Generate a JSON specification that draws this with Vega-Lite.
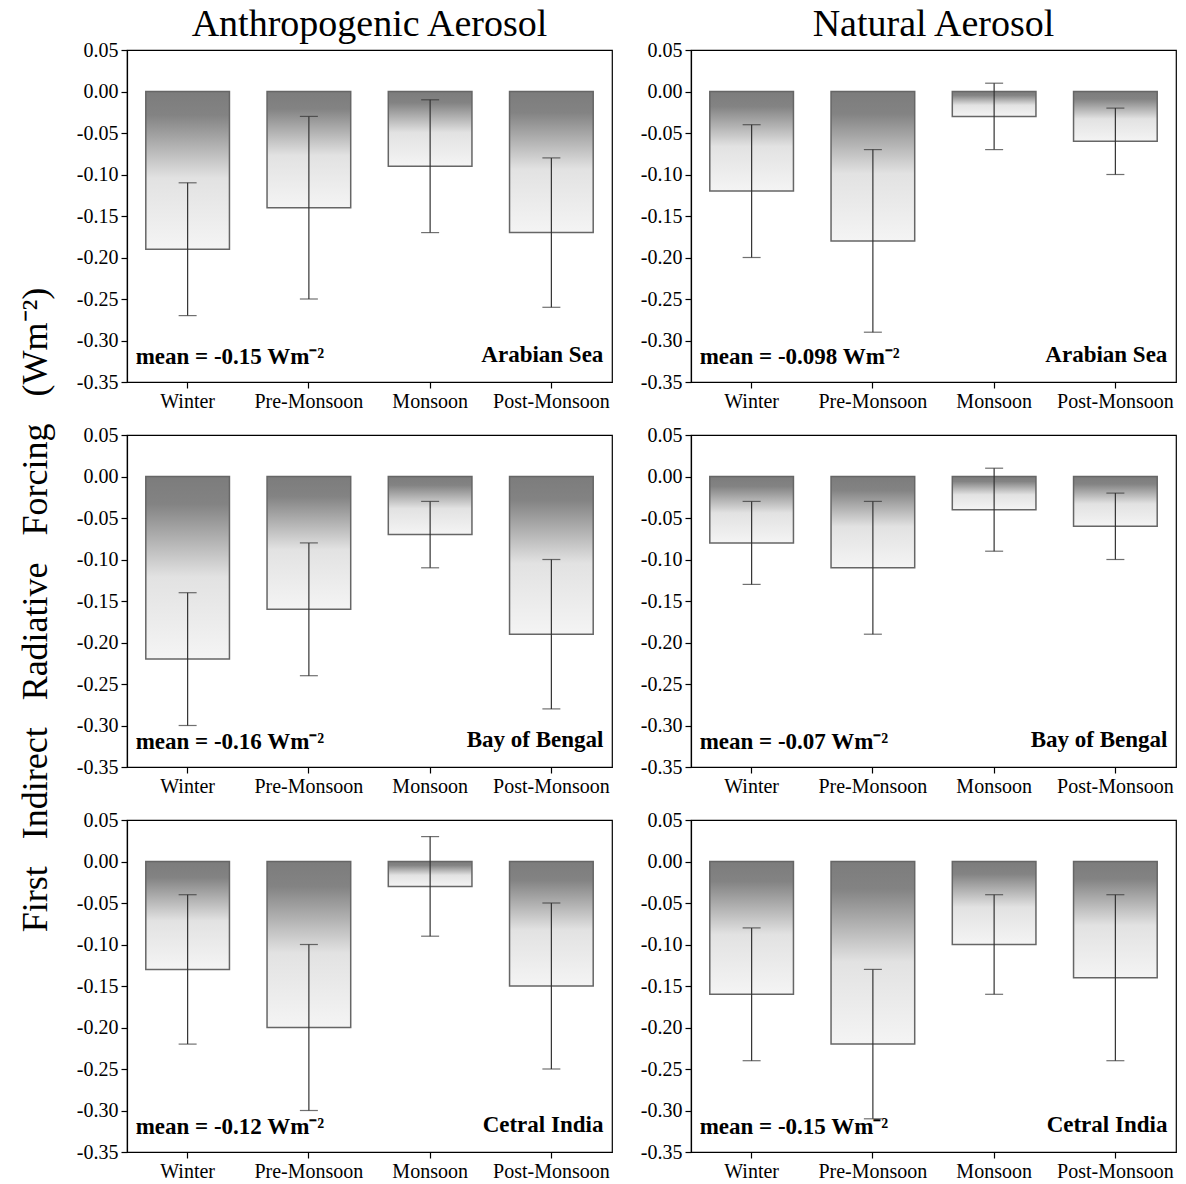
{
  "$schema": "https://vega.github.io/schema/vega-lite/v6.json",
  "background": "white",
  "padding": {"left": 17, "top": 6, "right": 5, "bottom": 5},
  "data": {"values": [
    {"aerosol": "Anthropogenic Aerosol", "region": "Arabian Sea", "season": "Winter", "value": -0.19, "lo": -0.27, "hi": -0.11, "mean": "mean = -0.15 Wm⁻²"},
    {"aerosol": "Anthropogenic Aerosol", "region": "Arabian Sea", "season": "Pre-Monsoon", "value": -0.14, "lo": -0.25, "hi": -0.03, "mean": "mean = -0.15 Wm⁻²"},
    {"aerosol": "Anthropogenic Aerosol", "region": "Arabian Sea", "season": "Monsoon", "value": -0.09, "lo": -0.17, "hi": -0.01, "mean": "mean = -0.15 Wm⁻²"},
    {"aerosol": "Anthropogenic Aerosol", "region": "Arabian Sea", "season": "Post-Monsoon", "value": -0.17, "lo": -0.26, "hi": -0.08, "mean": "mean = -0.15 Wm⁻²"},
    {"aerosol": "Natural Aerosol", "region": "Arabian Sea", "season": "Winter", "value": -0.12, "lo": -0.20, "hi": -0.04, "mean": "mean = -0.098 Wm⁻²"},
    {"aerosol": "Natural Aerosol", "region": "Arabian Sea", "season": "Pre-Monsoon", "value": -0.18, "lo": -0.29, "hi": -0.07, "mean": "mean = -0.098 Wm⁻²"},
    {"aerosol": "Natural Aerosol", "region": "Arabian Sea", "season": "Monsoon", "value": -0.03, "lo": -0.07, "hi": 0.01, "mean": "mean = -0.098 Wm⁻²"},
    {"aerosol": "Natural Aerosol", "region": "Arabian Sea", "season": "Post-Monsoon", "value": -0.06, "lo": -0.10, "hi": -0.02, "mean": "mean = -0.098 Wm⁻²"},
    {"aerosol": "Anthropogenic Aerosol", "region": "Bay of Bengal", "season": "Winter", "value": -0.22, "lo": -0.30, "hi": -0.14, "mean": "mean = -0.16 Wm⁻²"},
    {"aerosol": "Anthropogenic Aerosol", "region": "Bay of Bengal", "season": "Pre-Monsoon", "value": -0.16, "lo": -0.24, "hi": -0.08, "mean": "mean = -0.16 Wm⁻²"},
    {"aerosol": "Anthropogenic Aerosol", "region": "Bay of Bengal", "season": "Monsoon", "value": -0.07, "lo": -0.11, "hi": -0.03, "mean": "mean = -0.16 Wm⁻²"},
    {"aerosol": "Anthropogenic Aerosol", "region": "Bay of Bengal", "season": "Post-Monsoon", "value": -0.19, "lo": -0.28, "hi": -0.10, "mean": "mean = -0.16 Wm⁻²"},
    {"aerosol": "Natural Aerosol", "region": "Bay of Bengal", "season": "Winter", "value": -0.08, "lo": -0.13, "hi": -0.03, "mean": "mean = -0.07 Wm⁻²"},
    {"aerosol": "Natural Aerosol", "region": "Bay of Bengal", "season": "Pre-Monsoon", "value": -0.11, "lo": -0.19, "hi": -0.03, "mean": "mean = -0.07 Wm⁻²"},
    {"aerosol": "Natural Aerosol", "region": "Bay of Bengal", "season": "Monsoon", "value": -0.04, "lo": -0.09, "hi": 0.01, "mean": "mean = -0.07 Wm⁻²"},
    {"aerosol": "Natural Aerosol", "region": "Bay of Bengal", "season": "Post-Monsoon", "value": -0.06, "lo": -0.10, "hi": -0.02, "mean": "mean = -0.07 Wm⁻²"},
    {"aerosol": "Anthropogenic Aerosol", "region": "Cetral India", "season": "Winter", "value": -0.13, "lo": -0.22, "hi": -0.04, "mean": "mean = -0.12 Wm⁻²"},
    {"aerosol": "Anthropogenic Aerosol", "region": "Cetral India", "season": "Pre-Monsoon", "value": -0.20, "lo": -0.30, "hi": -0.10, "mean": "mean = -0.12 Wm⁻²"},
    {"aerosol": "Anthropogenic Aerosol", "region": "Cetral India", "season": "Monsoon", "value": -0.03, "lo": -0.09, "hi": 0.03, "mean": "mean = -0.12 Wm⁻²"},
    {"aerosol": "Anthropogenic Aerosol", "region": "Cetral India", "season": "Post-Monsoon", "value": -0.15, "lo": -0.25, "hi": -0.05, "mean": "mean = -0.12 Wm⁻²"},
    {"aerosol": "Natural Aerosol", "region": "Cetral India", "season": "Winter", "value": -0.16, "lo": -0.24, "hi": -0.08, "mean": "mean = -0.15 Wm⁻²"},
    {"aerosol": "Natural Aerosol", "region": "Cetral India", "season": "Pre-Monsoon", "value": -0.22, "lo": -0.31, "hi": -0.13, "mean": "mean = -0.15 Wm⁻²"},
    {"aerosol": "Natural Aerosol", "region": "Cetral India", "season": "Monsoon", "value": -0.10, "lo": -0.16, "hi": -0.04, "mean": "mean = -0.15 Wm⁻²"},
    {"aerosol": "Natural Aerosol", "region": "Cetral India", "season": "Post-Monsoon", "value": -0.14, "lo": -0.24, "hi": -0.04, "mean": "mean = -0.15 Wm⁻²"}
  ]},
  "facet": {
    "row": {"field": "region", "type": "nominal", "sort": ["Arabian Sea", "Bay of Bengal", "Cetral India"],
      "header": {"title": "First\u00a0\u00a0 Indirect\u00a0\u00a0 Radiative\u00a0\u00a0 Forcing\u00a0\u00a0 (Wm⁻²)", "labels": false, "titleFont": "Liberation Serif", "titleFontSize": 36, "titleFontWeight": "normal", "titleColor": "black", "titlePadding": 62}},
    "column": {"field": "aerosol", "type": "nominal", "sort": ["Anthropogenic Aerosol", "Natural Aerosol"],
      "header": {"title": null, "labelFont": "Liberation Serif", "labelFontSize": 38, "labelColor": "black", "labelPadding": 6}}
  },
  "spacing": {"row": 53, "column": 79},
  "bounds": "flush",
  "resolve": {"axis": {"x": "independent", "y": "independent"}},
  "spec": {
    "width": 485,
    "height": 332,
    "encoding": {
      "x": {"field": "season", "type": "nominal", "sort": ["Winter", "Pre-Monsoon", "Monsoon", "Post-Monsoon"],
        "scale": {"paddingInner": 0.31, "paddingOuter": 0.155},
        "axis": {"title": null, "labelAngle": 0, "labelFont": "Liberation Serif", "labelFontSize": 20, "labelColor": "black", "tickColor": "black", "domainColor": "black", "tickSize": 6, "labelPadding": 3}}
    },
    "layer": [
      {
        "mark": {"type": "bar", "stroke": "#666666", "strokeWidth": 1.5,
          "fill": {"gradient": "linear", "x1": 0, "y1": 0, "x2": 0, "y2": 1,
            "stops": [{"offset": 0, "color": "#7c7c7c"}, {"offset": 0.15, "color": "#838383"}, {"offset": 0.55, "color": "#e2e2e2"}, {"offset": 1, "color": "#f4f4f4"}]}},
        "encoding": {
          "y": {"field": "value", "type": "quantitative",
            "scale": {"domain": [-0.35, 0.05], "nice": false, "zero": false},
            "axis": {"title": null, "values": [0.05, 0, -0.05, -0.1, -0.15, -0.2, -0.25, -0.3, -0.35], "labelExpr": "replace(format(datum.value, '.2f'), '\u2212', '-')", "grid": false,
              "labelFont": "Liberation Serif", "labelFontSize": 20, "labelColor": "black", "tickColor": "black", "domainColor": "black", "tickSize": 6, "labelPadding": 3}},
          "y2": {"datum": 0}
        }
      },
      {
        "mark": {"type": "rule", "color": "#333333", "strokeWidth": 1.2},
        "encoding": {"y": {"field": "lo", "type": "quantitative"}, "y2": {"field": "hi"}}
      },
      {
        "mark": {"type": "tick", "color": "#333333", "thickness": 1.2, "size": 18},
        "encoding": {"y": {"field": "lo", "type": "quantitative"}}
      },
      {
        "mark": {"type": "tick", "color": "#333333", "thickness": 1.2, "size": 18},
        "encoding": {"y": {"field": "hi", "type": "quantitative"}}
      },
      {
        "mark": {"type": "rule", "color": "black", "strokeWidth": 2},
        "encoding": {"y": {"datum": 0}}
      },
      {
        "transform": [{"filter": "datum.season === 'Winter'"}],
        "mark": {"type": "text", "align": "left", "baseline": "middle", "dx": -52, "font": "Liberation Serif", "fontSize": 23, "fontWeight": "bold", "color": "black"},
        "encoding": {"y": {"datum": -0.32}, "text": {"field": "mean"}}
      },
      {
        "transform": [{"filter": "datum.season === 'Post-Monsoon'"}],
        "mark": {"type": "text", "align": "right", "baseline": "middle", "dx": 52, "font": "Liberation Serif", "fontSize": 23, "fontWeight": "bold", "color": "black"},
        "encoding": {"y": {"datum": -0.317}, "text": {"field": "region"}}
      }
    ]
  },
  "config": {
    "view": {"stroke": "black", "strokeWidth": 1.2},
    "axis": {"domainWidth": 1.2, "tickWidth": 1.2}
  }
}
